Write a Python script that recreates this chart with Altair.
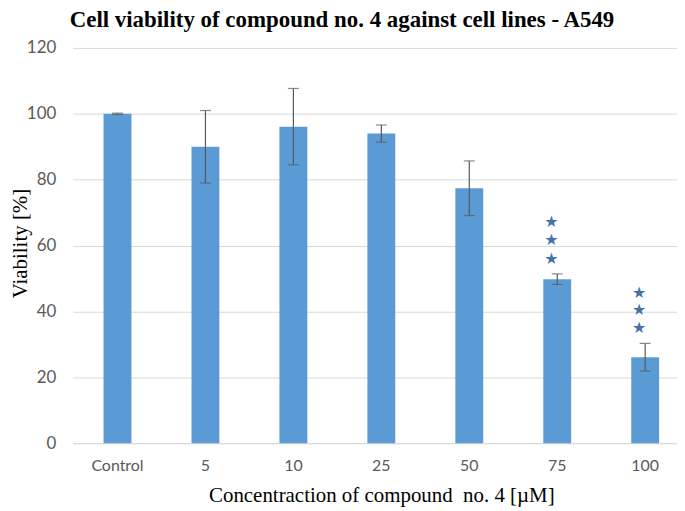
import altair as alt
import pandas as pd

categories = ["Control", "5", "10", "25", "50", "75", "100"]
viability = [100.0, 90.0, 96.1, 94.0, 77.4, 49.8, 26.1]
errors = [0.2, 11.0, 11.6, 2.6, 8.3, 1.6, 4.2]

star_categories = ["75", "75", "75", "100", "100", "100"]
star_positions = [56.0, 61.6, 67.0, 35.0, 40.5, 45.7]

df = pd.DataFrame({
    "cat": categories,
    "v": viability,
    "lo": [v - e for v, e in zip(viability, errors)],
    "hi": [v + e for v, e in zip(viability, errors)],
})
stars = pd.DataFrame({"cat": star_categories, "y": star_positions})

label_font = "Lato"
xscale = alt.Scale(domain=categories, paddingInner=0.683, paddingOuter=0.277, align=0.633)
yscale = alt.Scale(domain=[0, 120])

x_axis = alt.Axis(
    title="Concentraction of compound\u00a0 no. 4 [µM]",
    titleFont="Liberation Serif", titleFontSize=21, titleFontWeight="normal",
    titleColor="#000000", titleX=310, titleY=59, titleBaseline="alphabetic",
    labelFont=label_font, labelFontSize=16, labelColor="#595959", labelPadding=14,
    labelAngle=0, ticks=False, domain=True, domainColor="#D9D9D9", domainWidth=1,
    grid=False,
)
y_axis = alt.Axis(
    title="Viability [%]",
    titleFont="Liberation Serif", titleFontSize=21, titleFontWeight="normal",
    titleColor="#000000", titleX=-52, titleY=196, titleAngle=-90,
    titleBaseline="middle", titleAlign="center",
    labelFont=label_font, labelFontSize=17, labelColor="#595959", labelPadding=17,
    values=[0, 20, 40, 60, 80, 100, 120], ticks=False, domain=False,
    grid=True, gridColor="#D9D9D9", gridWidth=1,
)

base = alt.Chart(df)

bars = base.mark_bar(color="#5B9BD5").encode(
    x=alt.X("cat:N", scale=xscale, axis=x_axis, sort=categories),
    y=alt.Y("v:Q", scale=yscale, axis=y_axis),
)

err = base.mark_rule(color="#595959", strokeWidth=1.2).encode(
    x=alt.X("cat:N", scale=xscale, sort=categories),
    y=alt.Y("lo:Q", scale=yscale),
    y2="hi:Q",
)
cap_lo = base.mark_tick(color="#595959", thickness=1.2, size=11, orient="horizontal").encode(
    x=alt.X("cat:N", scale=xscale, sort=categories),
    y=alt.Y("lo:Q", scale=yscale),
)
cap_hi = base.mark_tick(color="#595959", thickness=1.2, size=11, orient="horizontal").encode(
    x=alt.X("cat:N", scale=xscale, sort=categories),
    y=alt.Y("hi:Q", scale=yscale),
)

star_marks = alt.Chart(stars).mark_text(
    text="★", font="DejaVu Sans", fontSize=16, color="#4472A8",
    dx=-6, baseline="middle", align="center",
).encode(
    x=alt.X("cat:N", scale=xscale, sort=categories),
    y=alt.Y("y:Q", scale=yscale),
)

chart = alt.layer(bars, err, cap_lo, cap_hi, star_marks).properties(
    width=607,
    height=397,
    title=alt.TitleParams(
        "Cell viability of compound no. 4 against cell lines - A549",
        font="Liberation Serif", fontSize=23, fontWeight="bold", color="#000000",
        anchor="middle", dx=-33, offset=7,
    ),
    autosize=alt.AutoSizeParams(type="none"),
    padding={"left": 65, "top": 39, "right": 0, "bottom": 66},
).configure_view(stroke=None)

chart.save("out.html", embed_options={"renderer": "svg", "actions": False})
